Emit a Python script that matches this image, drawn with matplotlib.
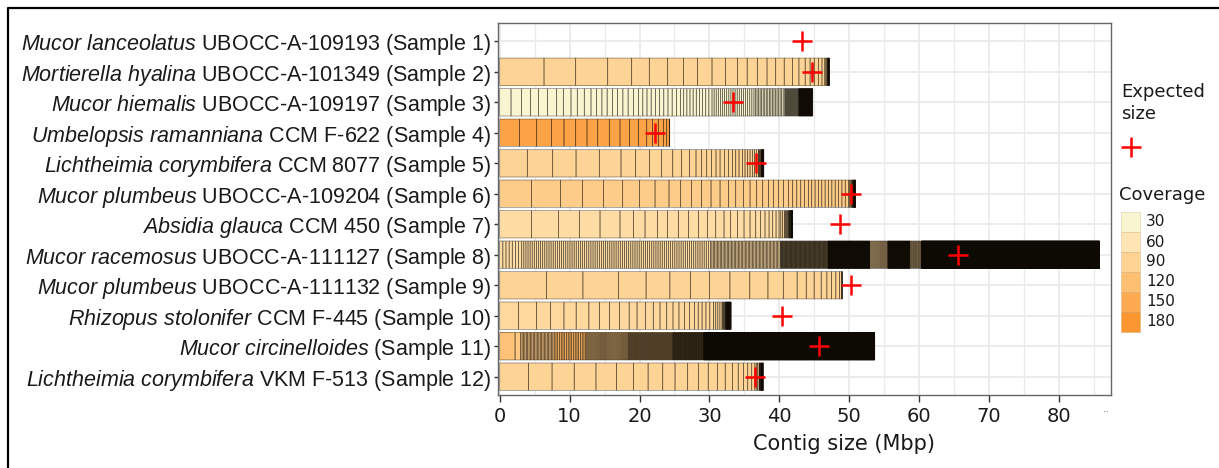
import numpy as np
import matplotlib.pyplot as plt
from matplotlib.colors import LinearSegmentedColormap, Normalize
from matplotlib.lines import Line2D
from matplotlib.patches import Rectangle

plt.rcParams["mathtext.fontset"] = "custom"
plt.rcParams["mathtext.it"] = "Liberation Sans:italic"
plt.rcParams["mathtext.rm"] = "Liberation Sans"

species = [
    "Mucor lanceolatus", "Mortierella hyalina", "Mucor hiemalis",
    "Umbelopsis ramanniana", "Lichtheimia corymbifera", "Mucor plumbeus",
    "Absidia glauca", "Mucor racemosus", "Mucor plumbeus",
    "Rhizopus stolonifer", "Mucor circinelloides", "Lichtheimia corymbifera",
]
strains = [
    "UBOCC-A-109193 (Sample 1)", "UBOCC-A-101349 (Sample 2)",
    "UBOCC-A-109197 (Sample 3)", "CCM F-622 (Sample 4)",
    "CCM 8077 (Sample 5)", "UBOCC-A-109204 (Sample 6)",
    "CCM 450 (Sample 7)", "UBOCC-A-111127 (Sample 8)",
    "UBOCC-A-111132 (Sample 9)", "CCM F-445 (Sample 10)",
    "(Sample 11)", "VKM F-513 (Sample 12)",
]
expected_mbp = [43.3, 44.7, 33.4, 22.2, 36.6, 50.2, 48.7, 65.5, 50.2, 40.4, 45.7, 36.5]

# sample coverage (colour of the large contigs)
coverage = [0, 88, 30, 160, 88, 100, 75, 72, 88, 82, 100, 88]

# large contigs read one by one (Mbp), largest first
sizes_s1 = []
sizes_s2 = [6.34, 4.53, 4.58, 3.43, 2.52, 2.63, 2.27, 2.0, 2.07, 1.93, 1.7, 1.4,
            1.45, 1.39, 1.24, 1.22, 1.2, 0.9, 0.9, 0.7, 0.6, 0.6, 0.5, 0.4]
sizes_s3 = [1.62, 1.52, 1.29, 1.10, 1.33, 1.29, 0.95, 1.1, 0.9, 1.0, 0.96, 0.81]
sizes_s4 = [2.81, 2.48, 2.14, 1.77, 1.67, 1.62, 1.53, 1.66, 1.53, 1.34, 1.28, 1.2,
            0.85, 0.81, 0.72, 0.48, 0.37]
sizes_s5 = [3.95, 3.63, 3.34, 3.33, 3.1, 2.1, 1.96, 1.76, 1.58, 1.28, 1.1, 0.95,
            0.81, 0.72, 0.71, 0.62, 0.58, 0.62, 0.57, 0.57, 0.48, 0.47, 0.48,
            0.38, 0.38, 0.34, 0.33, 0.29, 0.33, 0.24]
sizes_s6 = [4.57, 4.15, 3.1, 3.01, 2.76, 2.39, 2.24, 2.0, 1.67, 1.57, 1.43, 1.34,
            1.29, 1.19, 1.05, 1.09, 0.96, 0.95, 0.86, 0.81, 0.72, 0.71, 0.72,
            0.71, 0.62, 0.58, 0.57, 0.52, 0.57]
sizes_s7 = [4.57, 3.82, 3.0, 2.96, 2.86, 1.91, 1.67, 1.76, 1.43, 1.57, 1.44, 1.43,
            1.28, 1.2, 1.19, 0.95, 0.96, 0.95, 0.86, 0.81, 0.71, 0.62, 0.58,
            0.52, 0.48, 0.43]
sizes_s8 = []
sizes_s9 = [6.7, 5.2, 5.1, 3.94, 3.4, 2.94, 2.72, 2.93, 2.84, 2.6, 2.2, 1.98, 1.3,
            1.13, 1.01, 0.81, 0.67, 0.61, 0.52, 0.34]
sizes_s10 = [2.68, 2.6, 1.98, 1.93, 1.75, 1.81, 1.53, 1.41, 1.47, 1.36, 1.13,
             1.19, 1.13, 0.96, 0.96, 0.9, 0.85, 0.79, 0.74, 0.68]
sizes_s11 = []
sizes_s12 = [4.1, 3.39, 3.17, 3.11, 2.94, 2.43, 2.09, 2.09, 1.76, 1.81, 1.52,
             1.42, 1.3, 1.13, 1.02, 0.84, 0.74, 0.62, 0.57, 0.45]

# small contigs as runs: (contig size Mbp, number of contigs, coverage)
tail_s1 = []
tail_s2 = [(0.15, 2, 88), (0.05, 4, 88), (0.015, 10, 88)]
tail_s3 = [(0.75, 8, 30), (0.6, 10, 30), (0.45, 10, 30), (0.3, 20, 30),
           (0.22, 20, 30), (0.1, 20, 30), (0.03, 67, 30)]
tail_s4 = [(0.03, 2, 160)]
tail_s5 = [(0.1, 4, 88), (0.03, 13, 88)]
tail_s6 = [(0.48, 12, 100), (0.15, 3, 100), (0.05, 6, 100), (0.02, 12, 100)]
tail_s7 = [(0.25, 3, 75), (0.12, 5, 75), (0.05, 8, 75), (0.02, 10, 75)]
tail_s8 = [(0.45, 7, 75), (0.3, 90, 75), (0.2, 50, 72), (0.08, 85, 70),
           (0.03, 200, 70), (0.15, 17, 80), (0.03, 106, 70), (0.12, 14, 75),
           (0.012, 2120, 70)]
tail_s9 = [(0.02, 3, 88)]
tail_s10 = [(0.55, 5, 82), (0.3, 4, 82), (0.1, 5, 82), (0.03, 27, 82)]
tail_s11 = [(2.2, 1, 115), (0.8, 1, 105), (0.2, 24, 100), (0.25, 18, 130),
            (0.15, 40, 100), (0.1, 64, 100), (0.06, 75, 100), (0.015, 1630, 100)]
tail_s12 = [(0.2, 3, 88), (0.05, 6, 88), (0.02, 15, 88)]

legend_levels = [30, 60, 90, 120, 150, 180]
cov_anchor = [30, 60, 90, 120, 150, 180]
cov_colors = ["#FAF5D1", "#FEE5B3", "#FED394", "#FDBF72", "#FDAA52", "#FC9631"]

sizes_all = [sizes_s1, sizes_s2, sizes_s3, sizes_s4, sizes_s5, sizes_s6,
             sizes_s7, sizes_s8, sizes_s9, sizes_s10, sizes_s11, sizes_s12]
tails_all = [tail_s1, tail_s2, tail_s3, tail_s4, tail_s5, tail_s6,
             tail_s7, tail_s8, tail_s9, tail_s10, tail_s11, tail_s12]

norm = Normalize(cov_anchor[0], cov_anchor[-1], clip=True)
cmap = LinearSegmentedColormap.from_list(
    "cov", [(norm(v), c) for v, c in zip(cov_anchor, cov_colors)])

W, H = 1219, 468
fig = plt.figure(figsize=(W / 100, H / 100), dpi=100)


def fx(px):
    return px / W


def fy(py):
    return 1 - py / H


ax = fig.add_axes([fx(498.3), fy(395), (1110.7 - 498.3) / W, (395 - 23) / H])

for i, (sizes, tail) in enumerate(zip(sizes_all, tails_all)):
    lengths = list(sizes)
    covs = [coverage[i]] * len(sizes)
    for size, n, c in tail:
        lengths += [size] * n
        covs += [c] * n
    if not lengths:
        continue
    lefts = np.concatenate([[0.0], np.cumsum(lengths)[:-1]])
    ys = np.full(len(lengths), i)
    # fills first, then all contig outlines on top so dense runs go dark
    ax.barh(ys, lengths, left=lefts, height=0.9,
            color=cmap(norm(np.array(covs))), linewidth=0, zorder=2)
    edges = ax.barh(ys, lengths, left=lefts, height=0.9, fill=False,
                    edgecolor=(0.05, 0.035, 0.01, 0.5), linewidth=0.5, zorder=3)
    for p in edges:
        p.set_snap(False)

ax.plot(expected_mbp, range(len(expected_mbp)), linestyle="none", marker="+",
        color="#FF0000", markersize=15, markeredgewidth=1.8, zorder=4)

labels = []
for sp, st in zip(species, strains):
    sp_math = sp.replace(" ", r"\ ")
    labels.append(r"$\mathit{" + sp_math + "}$ " + st)

ax.set_yticks(range(len(labels)))
ax.set_yticklabels(labels, fontsize=15.5, fontfamily="Liberation Sans", color="#1a1a1a")
ax.set_ylim(11.6, -0.6)
ax.set_xlim(-0.2, 87.4)
ax.set_xticks(range(0, 90, 10))
ax.set_xticks(range(5, 90, 10), minor=True)
ax.tick_params(axis="x", which="major", labelsize=14, colors="#333333",
               labelcolor="#1a1a1a", length=5, width=1, pad=3.5)
ax.tick_params(axis="x", which="minor", length=0)
ax.tick_params(axis="y", length=3, width=1, colors="#333333", labelcolor="#1a1a1a", pad=2)

ax.grid(True, which="major", color="#EBEBEB", linewidth=1.3, zorder=0)
ax.grid(True, which="minor", axis="x", color="#EBEBEB", linewidth=0.9, zorder=0)
ax.set_axisbelow(True)
for s in ax.spines.values():
    s.set_color("#666666")
    s.set_linewidth(1.0)

fig.text(fx(844), fy(444), "Contig size (Mbp)", fontsize=15, ha="center",
         va="center", color="#1a1a1a")
fig.text(fx(1106), fy(412), "··", fontsize=8, ha="center", va="center", color="#777777")

# legend: expected size
fig.text(fx(1121), fy(97), "Expected", fontsize=13, ha="left", va="baseline", color="#1a1a1a")
fig.text(fx(1121), fy(119), "size", fontsize=13, ha="left", va="baseline", color="#1a1a1a")
fig.add_artist(Line2D([fx(1131)], [fy(146.5)], marker="+", color="#FF0000",
                      markersize=15, markeredgewidth=1.8, linestyle="none",
                      transform=fig.transFigure))

# legend: coverage
fig.text(fx(1119), fy(200), "Coverage", fontsize=13, ha="left", va="baseline", color="#1a1a1a")
key_h = 20
for k, lev in enumerate(legend_levels):
    top = 212 + k * key_h
    fig.add_artist(Rectangle((fx(1120.7), fy(top + key_h)), (1140 - 1120.7) / W, key_h / H,
                             facecolor=cmap(norm(lev)), edgecolor=(0.6, 0.45, 0.2, 0.25),
                             linewidth=0.5, transform=fig.transFigure))
    fig.text(fx(1146), fy(top + key_h / 2), str(lev), fontsize=11, ha="left",
             va="center", color="#1a1a1a")

# outer frame of the figure panel
fig.add_artist(Line2D([fx(8), fx(8), fx(1219)], [0, fy(8), fy(8)], color="black",
                      linewidth=1.6, transform=fig.transFigure))

fig.savefig("out.png", dpi=100)
